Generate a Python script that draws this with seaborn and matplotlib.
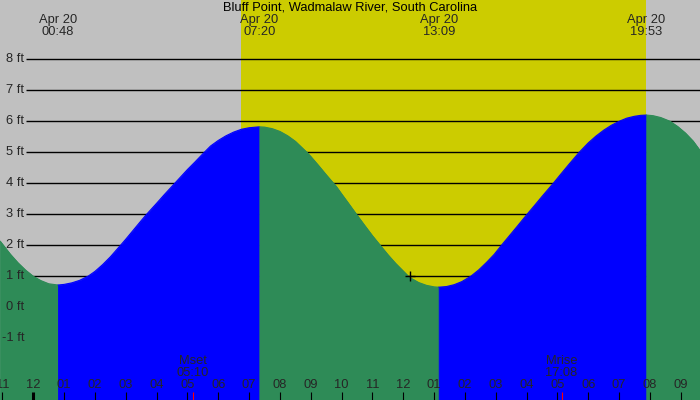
import matplotlib
matplotlib.use("Agg")
import matplotlib.pyplot as plt
import seaborn as sns
import pandas as pd

title = "Bluff Point, Wadmalaw River, South Carolina"
date_label = "Apr 20"

# tide curve (hours since midnight Apr 20, feet)
curve_hours = [-1.08, -0.75, -0.5, -0.25, 0.0, 0.25, 0.5, 0.8,
               1.0, 1.25, 1.5, 1.785, 2.0, 2.25, 2.5, 2.835, 3.0, 3.25, 3.5, 3.68,
               4.0, 4.25, 4.5, 4.75, 5.0, 5.25, 5.51, 5.75, 6.0, 6.25, 6.5, 6.75,
               7.0, 7.333,
               7.5, 7.75, 8.0, 8.25, 8.5, 8.868, 9.0, 9.25, 9.5, 9.82, 10.0, 10.25,
               10.49, 10.75, 11.0, 11.245, 11.5, 11.75, 12.0, 12.16, 12.25, 12.5,
               12.75, 13.0, 13.15,
               13.4, 13.65, 13.9, 14.2, 14.45, 14.7, 14.95, 15.19, 15.45, 15.7,
               16.02, 16.25, 16.5, 16.87, 17.1, 17.35, 17.71, 18.0, 18.25, 18.5,
               18.75, 19.03, 19.25, 19.5, 19.7, 19.883,
               20.1, 20.35, 20.65, 20.9, 21.15, 21.4, 21.62]
curve_feet = [2.13, 1.71, 1.43, 1.19, 0.99, 0.85, 0.75, 0.71,
              0.73, 0.78, 0.86, 1.00, 1.15, 1.37, 1.62, 2.00, 2.19, 2.49, 2.79, 3.00,
              3.35, 3.63, 3.90, 4.17, 4.44, 4.69, 4.96, 5.20, 5.38, 5.53, 5.65, 5.74,
              5.79, 5.82,
              5.81, 5.76, 5.67, 5.53, 5.35, 5.00, 4.86, 4.57, 4.27, 3.90, 3.65, 3.31,
              2.98, 2.63, 2.30, 2.00, 1.69, 1.41, 1.16, 1.00, 0.93, 0.79,
              0.70, 0.65, 0.64,
              0.66, 0.72, 0.82, 1.00, 1.20, 1.44, 1.70, 2.00, 2.31, 2.61,
              3.00, 3.27, 3.57, 4.00, 4.28, 4.58, 5.00, 5.30, 5.52, 5.71,
              5.87, 6.01, 6.10, 6.16, 6.19, 6.20,
              6.18, 6.12, 6.00, 5.83, 5.62, 5.36, 5.06]

extreme_times = ["00:48", "07:20", "13:09", "19:53"]
extreme_hours = [0.8, 7.333, 13.15, 19.883]
sunrise = "06:44"
sunset = "19:52"
moon_names = ["Mset", "Mrise"]
moon_times = ["05:10", "17:08"]
ytick_feet = [-1, 0, 1, 2, 3, 4, 5, 6, 7, 8]
grid_feet = [1, 2, 3, 4, 5, 6, 7, 8]
hour_ticks = list(range(-1, 22))
marker_hour = 12.22
marker_feet = 1.0

BG = "#C0C0C0"
DAY = "#CCCC00"
RISE = "#0000FF"
FALL = "#2E8B57"


def to_h(s):
    hh, mm = s.split(":")
    return int(hh) + int(mm) / 60.0


sns.set_style("white")
plt.rcParams["font.family"] = ["Liberation Sans", "DejaVu Sans"]
FS = 9.3

fig = plt.figure(figsize=(7, 4), dpi=100, facecolor=BG)
ax = fig.add_axes([0, 0, 1, 1])
ax.set_facecolor(BG)
XMIN, XMAX = -1.080, 21.625
YMIN, YMAX = -3.004, 9.916

# daylight
ax.axvspan(to_h(sunrise), to_h(sunset), color=DAY, lw=0, zorder=0.5)

# grid lines
ax.hlines(grid_feet, XMIN + (26 / 700) * (XMAX - XMIN), XMAX, color="black", lw=1.0, zorder=1)

# tide fill by segment (rising = blue, falling = green)
df = pd.DataFrame({"hour": curve_hours, "feet": curve_feet})
bounds = [XMIN - 1] + extreme_hours + [XMAX + 1]
for a, b in zip(bounds[:-1], bounds[1:]):
    seg = df[(df.hour >= a - 1e-6) & (df.hour <= b + 1e-6)]
    if len(seg) < 2:
        continue
    color = RISE if seg.feet.iloc[-1] > seg.feet.iloc[0] else FALL
    ax.fill_between(seg.hour, seg.feet, YMIN - 1, color=color, lw=0.6, edgecolor=color, zorder=2)
    sns.lineplot(data=seg, x="hour", y="feet", color=color, lw=0.8, ax=ax, sort=False,
                 zorder=2.1, legend=False)

ax.set_xlabel("")
ax.set_ylabel("")
ax.set_xlim(XMIN, XMAX)
ax.set_ylim(YMIN, YMAX)
ax.set_xticks([])
ax.set_yticks([])
for s in ax.spines.values():
    s.set_visible(False)

# marker
ax.plot([marker_hour], [marker_feet], marker="+", ms=7, mew=1.0, color="black", zorder=4)

trans = ax.get_xaxis_transform()
# title
ax.text(0.5, 1 - 7.5 / 400, title, transform=ax.transAxes, ha="center", va="center",
        fontsize=FS, color="black", zorder=5)
# tide extremes labels
for t, h in zip(extreme_times, extreme_hours):
    ax.text(h, 1 - 20 / 400, date_label, transform=trans, ha="center", va="center",
            fontsize=FS, zorder=5)
    ax.text(h, 1 - 32 / 400, t, transform=trans, ha="center", va="center",
            fontsize=FS, zorder=5)

# y labels
ytrans = ax.get_yaxis_transform()
for f in ytick_feet:
    ax.text(24 / 700, f, f"{f} ft", transform=ytrans, ha="right", va="center",
            fontsize=FS, zorder=5)

# hour ticks and labels
for h in hour_ticks:
    lab = "%02d" % (((h - 1) % 12) + 1)
    lw = 2.2 if h == 0 else 0.8
    ax.plot([h, h], [0, 8 / 400], transform=trans, color="black", lw=lw, zorder=5,
            solid_capstyle="butt")
    ax.text(h, 1 - 385 / 400, lab, transform=trans, ha="center", va="center",
            fontsize=FS, zorder=5)

# moon events
for n, t in zip(moon_names, moon_times):
    h = to_h(t)
    ax.plot([h, h], [0, 8 / 400], transform=trans, color="red", lw=0.8, zorder=5,
            solid_capstyle="butt")
    ax.text(h, 1 - 361.5 / 400, n, transform=trans, ha="center", va="center",
            fontsize=FS, zorder=5)
    ax.text(h, 1 - 373.5 / 400, t, transform=trans, ha="center", va="center",
            fontsize=FS, zorder=5)

fig.savefig("out.png", dpi=100, facecolor=BG)
